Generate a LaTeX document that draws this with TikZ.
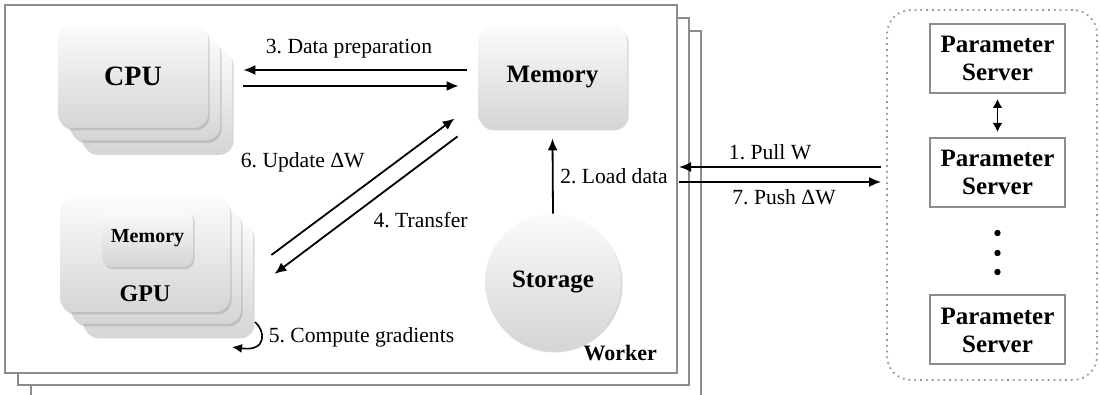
\documentclass[tikz,border=0pt]{standalone}
\usepackage{fontspec}
\setmainfont{Liberation Serif}
\usetikzlibrary{arrows.meta,shadows,calc,fit,positioning}
\frenchspacing

\begin{document}
\begin{tikzpicture}[x=0.5pt, y=-0.5pt, node distance=57pt,
    >={Latex[length=6pt,width=5pt]},
    shade box/.style={rounded corners=7pt, top color=gray!3, bottom color=gray!33,
        drop shadow={opacity=0.3, shadow xshift=0.8pt, shadow yshift=-1.2pt}},
    title/.style={font=\bfseries\fontsize{12.5}{14}\selectfont},
    step label/.style={font=\fontsize{10.8}{13}\selectfont},
    worker frame/.style={draw=black!45, line width=1pt, fill=white, inner sep=0pt},
    ps box/.style={draw=black!45, line width=1pt, fill=white, align=center,
        minimum width=67.5pt, minimum height=34.5pt, title},
    arrow/.style={->, line width=0.9pt}]

  \useasboundingbox (0,0) rectangle (1100,395);
  \clip (0,0) rectangle (1100,395);

  % worker stack
  \node[worker frame, fit={(31,31) (701,398)}] (worker3) {};
  \node[worker frame, fit={(18,18) (689,385)}] (worker2) {};
  \node[worker frame, fit={(5,5) (677,373)},
        label={[anchor=base east, xshift=-7pt, yshift=6.5pt, font=\bfseries\fontsize{11}{13}\selectfont]south east:Worker}] (worker) {};

  % CPU stack
  \node[shade box, minimum width=75pt, minimum height=51.5pt] (cpu3) at (157,101) {};
  \node[shade box, minimum width=75pt, minimum height=51.5pt] (cpu2) at (145,89) {};
  \node[shade box, minimum width=75pt, minimum height=51.5pt, font=\bfseries\fontsize{14}{16}\selectfont] (cpu) at (133,76.5) {CPU};

  % GPU stack
  \node[shade box, minimum width=85pt, minimum height=57pt] (gpu3) at (168,279) {};
  \node[shade box, minimum width=85pt, minimum height=57pt] (gpu2) at (156,267) {};
  \node[shade box, minimum width=85pt, minimum height=57pt,
        label={[anchor=base, yshift=5.5pt, font=\bfseries\fontsize{12}{14}\selectfont]south:GPU}] (gpu) at (145,255) {};
  \node[shade box, rounded corners=5pt, minimum width=45.5pt, minimum height=28.5pt,
        font=\bfseries\fontsize{10}{12}\selectfont] (gpumem) at (147.5,238.5) {Memory};

  \node[shade box, minimum width=74.5pt, minimum height=51pt, title] (mem) at (552.5,77) {Memory};
  \node[shade box, circle, minimum size=68pt, title] (storage) at (553,282) {Storage};

  % parameter servers
  \node[draw=black!40, dotted, line width=0.9pt, rounded corners=12pt, inner sep=0pt,
        fit={(887,10) (1097,380)}] (servers) {};
  \node[ps box] (ps1) at (997.5,58.5) {Parameter\\Server};
  \node[ps box] (ps2) [below of=ps1] {Parameter\\Server};
  \node[ps box] (ps3) [below of=ps2, node distance=78.75pt] {Parameter\\Server};
  \foreach \y in {233,253,272}
    \fill (ps2.center |- 0,\y) circle (1.6pt);

  \draw[arrow] ($(mem.west)+(-11,-7)$) -- node[step label, above, xshift=-3pt, yshift=2pt] (prep) {3. Data preparation} ($(cpu.east)+(35,-6.5)$);
  \draw[arrow] ($(cpu.east)+(35,9.5)$) -- ($(mem.west)+(-19,9)$);
  \draw[arrow] ($(gpu.east)+(41,0)$) -- node[step label, pos=0.55, above left] (upd) {6. Update ΔW} ($(mem.south west)+(-23,-10)$);
  \draw[arrow] ($(mem.south west)+(-20,8)$) -- node[step label, pos=0.5, below right] (xfer) {4. Transfer} ($(gpu.east)+(44,19)$);
  \draw[arrow] (storage.north) -- node[step label, right] (load) {2. Load data} ($(mem.south)+(0,10)$);
  \draw[arrow] ($(servers.west)+(-5,-28)$) -- node[step label, above, xshift=-5pt] (pull) {1. Pull W} ($(worker.east)+(1,-22)$);
  \draw[arrow] ($(worker.east)+(1,-7)$) -- node[step label, below, xshift=2pt] (push) {7. Push ΔW} ($(servers.west)+(-5,-13)$);
  \draw[<->, >={Latex[length=4.5pt,width=5pt]}, line width=0.9pt, shorten >=2.5pt, shorten <=2.5pt] (ps1) -- (ps2);

  \coordinate (loopstart) at (255,322);
  \coordinate (loopend) at (232,347);
  \draw[->, >={Latex[length=5pt,width=4.5pt]}, line width=0.8pt] (loopstart) .. controls (265,330) and (268,352) .. node[step label, pos=0.45, right] (comp) {5. Compute gradients} (loopend);

\end{tikzpicture}
\end{document}
